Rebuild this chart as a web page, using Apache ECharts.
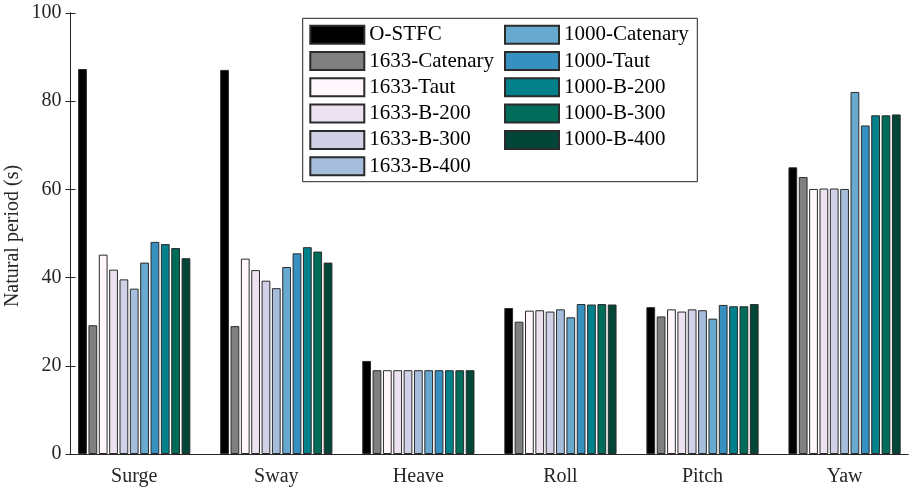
<!DOCTYPE html>
<html>
<head>
<meta charset="utf-8">
<script src="https://cdn.jsdelivr.net/npm/echarts@6/dist/echarts.min.js"></script>
<style>
  html, body { margin: 0; padding: 0; background: #fff; }
  #chart { width: 909px; height: 489px; }
</style>
</head>
<body>
<div id="chart"></div>
<script>
// Degrees of freedom along the x axis
const categories = ['Surge', 'Sway', 'Heave', 'Roll', 'Pitch', 'Yaw'];

// Natural periods (s) for each configuration, one value per degree of freedom
const oStfc        = [87.3, 87.1, 21.1, 33.1, 33.3, 65.0];
const cat1633      = [29.2, 29.0, 19.0, 30.0, 31.2, 62.8];
const taut1633     = [45.2, 44.3, 19.0, 32.5, 32.8, 60.1];
const b200_1633    = [41.8, 41.7, 19.0, 32.6, 32.3, 60.2];
const b300_1633    = [39.6, 39.3, 19.0, 32.3, 32.8, 60.2];
const b400_1633    = [37.5, 37.6, 19.0, 32.8, 32.6, 60.1];
const cat1000      = [43.4, 42.4, 19.0, 31.0, 30.7, 82.1];
const taut1000     = [48.1, 45.5, 19.0, 34.0, 33.8, 74.5];
const b200_1000    = [47.6, 46.9, 19.0, 33.9, 33.5, 76.8];
const b300_1000    = [46.7, 45.9, 19.0, 34.0, 33.5, 76.8];
const b400_1000    = [44.4, 43.4, 19.0, 33.9, 34.0, 77.0];

const seriesNames = ['O-STFC', '1633-Catenary', '1633-Taut', '1633-B-200', '1633-B-300', '1633-B-400',
                     '1000-Catenary', '1000-Taut', '1000-B-200', '1000-B-300', '1000-B-400'];
const seriesValues = [oStfc, cat1633, taut1633, b200_1633, b300_1633, b400_1633,
                      cat1000, taut1000, b200_1000, b300_1000, b400_1000];
const seriesColors = ['#000000', '#808080', '#fff7fb', '#ece2f0', '#d0d1e6', '#a6bddb',
                      '#67a9cf', '#3690c0', '#02818a', '#016c59', '#014636'];

// Y-axis ticks and title
const yTicks = [0, 20, 40, 60, 80, 100];
const yTitle = 'Natural period (s)';

const FONT = "'Liberation Serif', 'Times New Roman', serif";
const INK = '#262626';

const chart = echarts.init(document.getElementById('chart'), null, { renderer: 'canvas' });

const series = seriesNames.map((name, i) => ({
  name: name,
  type: 'bar',
  xAxisIndex: 0,
  yAxisIndex: 0,
  data: seriesValues[i],
  barCategoryGap: '21%',
  barGap: '18%',
  itemStyle: { color: seriesColors[i], borderColor: '#2b2b2b', borderWidth: 1 },
  emphasis: { disabled: true }
}));

const legendBase = {
  orient: 'vertical',
  top: 24.2,
  itemWidth: 54,
  itemHeight: 18,
  itemGap: 5.3,
  padding: 0,
  icon: 'rect',
  selectedMode: false,
  textStyle: { fontFamily: FONT, fontSize: 21, color: '#000' }
};

chart.setOption({
  animation: false,
  backgroundColor: '#ffffff',
  grid: [
    // bars: category bands padded the way the frame shows them
    { left: 63.2, width: 852.4, top: 13, bottom: 35, containLabel: false, outerBoundsMode: 'none' },
    // frame, value ticks and labels
    { left: 70.5, right: 1, top: 13, bottom: 35, containLabel: false, outerBoundsMode: 'none' }
  ],
  xAxis: [
    {
      type: 'category', gridIndex: 0, data: categories,
      axisLine: { show: false }, axisTick: { show: false },
      axisLabel: { fontFamily: FONT, fontSize: 20, color: INK, margin: 13 }
    },
    {
      type: 'value', gridIndex: 1, position: 'bottom', min: 0, max: 1,
      axisLine: { show: true, lineStyle: { color: INK, width: 1 } },
      axisTick: { show: false }, axisLabel: { show: false }, splitLine: { show: false }
    },
    {
      type: 'value', gridIndex: 1, position: 'top', min: 0, max: 1,
      axisLine: { show: true, lineStyle: { color: INK, width: 1 } },
      axisTick: { show: false }, axisLabel: { show: false }, splitLine: { show: false }
    }
  ],
  yAxis: [
    { type: 'value', gridIndex: 0, min: 0, max: 100, show: false },
    {
      type: 'value', gridIndex: 1, position: 'left',
      min: yTicks[0], max: yTicks[yTicks.length - 1], interval: 20,
      axisLine: { show: true, lineStyle: { color: INK, width: 1 } },
      axisTick: { show: true, inside: true, length: 5, lineStyle: { color: INK } },
      axisLabel: { fontFamily: FONT, fontSize: 20, color: INK, margin: 9 },
      splitLine: { show: false }
    },
    {
      type: 'value', gridIndex: 1, position: 'right',
      min: yTicks[0], max: yTicks[yTicks.length - 1], interval: 20,
      axisLine: { show: true, lineStyle: { color: INK, width: 1 } },
      axisTick: { show: true, inside: true, length: 5, lineStyle: { color: INK } },
      axisLabel: { show: false }, splitLine: { show: false }
    }
  ],
  legend: [
    Object.assign({}, legendBase, { left: 309.3, data: seriesNames.slice(0, 6) }),
    Object.assign({}, legendBase, { left: 504, data: seriesNames.slice(6) })
  ],
  graphic: [
    {
      // legend frame
      type: 'rect', z: -1, zlevel: 0,
      shape: { x: 302.7, y: 18.3, width: 394.6, height: 163.4 },
      style: { fill: '#ffffff', stroke: INK, lineWidth: 1 }
    },
    {
      // vertical axis title
      type: 'text', x: 12.5, y: 236, rotation: Math.PI / 2,
      style: {
        text: yTitle, fontFamily: FONT, fontSize: 20, fill: INK,
        align: 'center', verticalAlign: 'middle'
      }
    }
  ],
  series: series
});
</script>
</body>
</html>
